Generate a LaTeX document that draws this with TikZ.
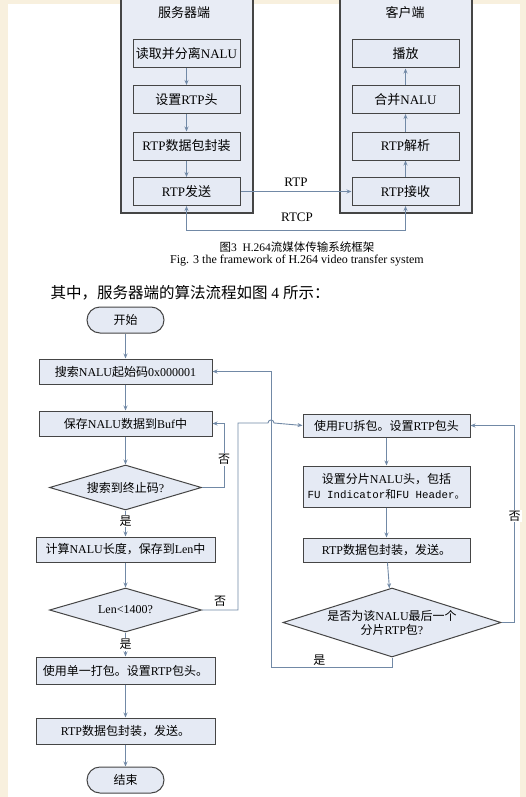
\documentclass[tikz,border=0pt]{standalone}
\usepackage{fontspec}
\setmainfont{Liberation Serif}
\setmonofont{Liberation Mono}
\newfontfamily\zhfont{Noto Sans CJK SC}
\usetikzlibrary{arrows.meta,shapes.geometric}

% Chinese runs switch to \zhfont on their own
\newXeTeXintercharclass\zhclass
\count255="3000
\loop\XeTeXcharclass\count255=\zhclass
  \ifnum\count255<"303F \advance\count255 by 1 \repeat
\count255="4E00
\loop\XeTeXcharclass\count255=\zhclass
  \ifnum\count255<"9FFF \advance\count255 by 1 \repeat
\count255="FF00
\loop\XeTeXcharclass\count255=\zhclass
  \ifnum\count255<"FFEF \advance\count255 by 1 \repeat
\XeTeXinterchartoks 0 \zhclass = {\begingroup\zhfont}
\XeTeXinterchartoks 4095 \zhclass = {\begingroup\zhfont}
\XeTeXinterchartoks \zhclass 0 = {\endgroup}
\XeTeXinterchartoks \zhclass 4095 = {\endgroup}
\XeTeXinterchartokenstate=1

\definecolor{bgbeige}{HTML}{F8F0DE}
\definecolor{boxfill}{HTML}{E5EAF4}
\definecolor{panelfill}{HTML}{E8ECF5}
\definecolor{boxline}{HTML}{454545}
\definecolor{flowblue}{HTML}{7189A6}

\tikzset{
  >={Stealth[length=5pt,width=4pt]},
  panel/.style={draw=boxline, fill=panelfill, line width=1.2pt, minimum width=132pt, minimum height=217pt, inner sep=0pt},
  topbox/.style={draw=boxline, fill=boxfill, line width=1pt, minimum width=107pt, minimum height=28pt, inner sep=0pt, font=\fontsize{13}{15}\selectfont},
  procbox/.style={draw=boxline, fill=boxfill, line width=1pt, minimum height=25pt, inner sep=0pt, font=\fontsize{12}{15}\selectfont},
  terminal/.style={procbox, rounded corners=13pt, minimum width=77pt, minimum height=26pt},
  decision/.style={diamond, draw=boxline, fill=boxfill, line width=1pt, inner sep=0pt},
  flowline/.style={draw=flowblue, line width=0.9pt, ->},
  lbl/.style={font=\fontsize{12}{14}\selectfont, inner sep=1pt},
  toplbl/.style={font=\fontsize{13}{15}\selectfont, inner sep=1pt},
}

\begin{document}
\begin{tikzpicture}[x=1pt, y=-1pt]
\useasboundingbox (0,0) rectangle (526,797);
\fill[bgbeige] (0,0) rectangle (526,797);
\fill[white] (8,4) rectangle (520,797);

% framework of the system
\node[panel] (srvpanel) at (187,104.5) {};
\node[panel] (clipanel) at (406,104.5) {};
\node[toplbl] (srvtitle) at (184,13) {服务器端};
\node[toplbl] (clititle) at (405,13) {客户端};

\node[topbox] (srv1) at (186.5,54) {读取并分离NALU};
\node[topbox] (srv2) at (186.5,99.5) {设置RTP头};
\node[topbox] (srv3) at (186.5,146) {RTP数据包封装};
\node[topbox] (srv4) at (186.5,191.5) {RTP发送};
\node[topbox] (cli1) at (405.5,54) {播放};
\node[topbox] (cli2) at (405.5,99.5) {合并NALU};
\node[topbox] (cli3) at (405.5,146) {RTP解析};
\node[topbox] (cli4) at (405.5,191.5) {RTP接收};

\draw[flowline] (srv1) -- (srv2);
\draw[flowline] (srv2) -- (srv3);
\draw[flowline] (srv3) -- (srv4);
\draw[flowline] (cli4) -- (cli3);
\draw[flowline] (cli3) -- (cli2);
\draw[flowline] (cli2) -- (cli1);

\draw[flowline] (srv4) -- node[toplbl, above=4pt] (rtplbl) {RTP} (cli4);
\coordinate (rtcp) at (0,230);
\draw[flowline, <->] (srv4.south) -- (srv4.south |- rtcp) -| (cli4.south);
\node[toplbl] (rtcplbl) at (297,217) {RTCP};

\node[font=\fontsize{11.5}{13}\selectfont] (cap3) at (297,247) {图3\ \ H.264流媒体传输系统框架};
\node[font=\fontsize{12}{14}\selectfont] (cap3en) at (297,261) {Fig. 3 the framework of H.264 video transfer system};

\node[anchor=west, font=\fontsize{15.5}{17}\selectfont] (intro) at (47,293) {其中，服务器端的算法流程如图 4 所示：};

% server side algorithm
\node[terminal] (start) at (125.5,320) {开始};
\node[procbox, minimum width=173pt] (search) at (125.5,371.5) {搜索NALU起始码0x000001};
\node[procbox, minimum width=173pt] (save) at (125.5,423.5) {保存NALU数据到Buf中};
\node[decision, minimum width=152pt, minimum height=45pt,
  label={[lbl]center:搜索到终止码?}] (endchk) at (125.5,487.5) {};
\node[procbox, minimum width=179pt] (calclen) at (125.5,549.5) {计算NALU长度，保存到Len中};
\node[decision, minimum width=152pt, minimum height=44pt,
  label={[lbl]center:Len<1400?}] (lenchk) at (125.5,610) {};
\node[procbox, minimum width=179pt, minimum height=27pt] (single) at (125.5,670.5) {使用单一打包。设置RTP包头。};
\node[procbox, minimum width=179pt, minimum height=26pt] (pack) at (125.5,731) {RTP数据包封装，发送。};
\node[terminal] (stop) at (125.5,780) {结束};

\node[procbox, minimum width=167pt, minimum height=23pt] (fusplit) at (386.5,425.5) {使用FU拆包。设置RTP包头};
\node[procbox, minimum width=167pt, minimum height=41pt, align=center] (fuhead) at (386.5,486.5)
  {设置分片NALU头，包括\\{\ttfamily\fontsize{10.8}{13}\selectfont FU Indicator和FU Header。}};
\node[procbox, minimum width=167pt, minimum height=24pt] (fupack) at (386.5,550) {RTP数据包封装，发送。};
\node[decision, minimum width=218pt, minimum height=69pt,
  label={[lbl, align=center]center:是否为该NALU最后一个\\分片RTP包?}] (lastchk) at (392,622.5) {};

\coordinate (nobend) at (238,423);
\coordinate (hop) at (271,423);
\coordinate (retcorner) at (271,667);

\draw[flowline] (start) -- (search);
\draw[flowline] (search) -- (save);
\draw[flowline] (save) -- (endchk);
\draw[flowline] (endchk) -- node[lbl, pos=0.4, fill=white] {是} (calclen);
\draw[flowline] (calclen) -- (lenchk);
\draw[flowline] (lenchk) -- node[lbl, pos=0.5, fill=white] {是} (single);
\draw[flowline] (single) -- (pack);
\draw[flowline] (pack) -- (stop);
\draw[flowline] (endchk.east) -- ++(22,0) |- node[lbl, pos=0.22, fill=white] {否} (save.east);

\draw[flowline] (fusplit) -- (fuhead);
\draw[flowline] (fuhead) -- (fupack);
\draw[flowline] (fupack) -- (lastchk);
\draw[flowline] (lastchk.east) -- ++(13,0) |- node[lbl, pos=0.27, fill=white] {否} (fusplit.east);

\draw[flowline] (lenchk.east) -| node[lbl, pos=0.25, above=2pt] {否} (nobend)
  -- ([xshift=-3pt]hop) .. controls ([xshift=-3pt,yshift=4pt]hop) and ([xshift=3pt,yshift=4pt]hop) .. ([xshift=3pt]hop)
  -- (fusplit.west);
\draw[flowline] (lastchk.south) |- node[lbl, pos=0.8, above] {是} (retcorner) |- (search.east);
\end{tikzpicture}
\end{document}
